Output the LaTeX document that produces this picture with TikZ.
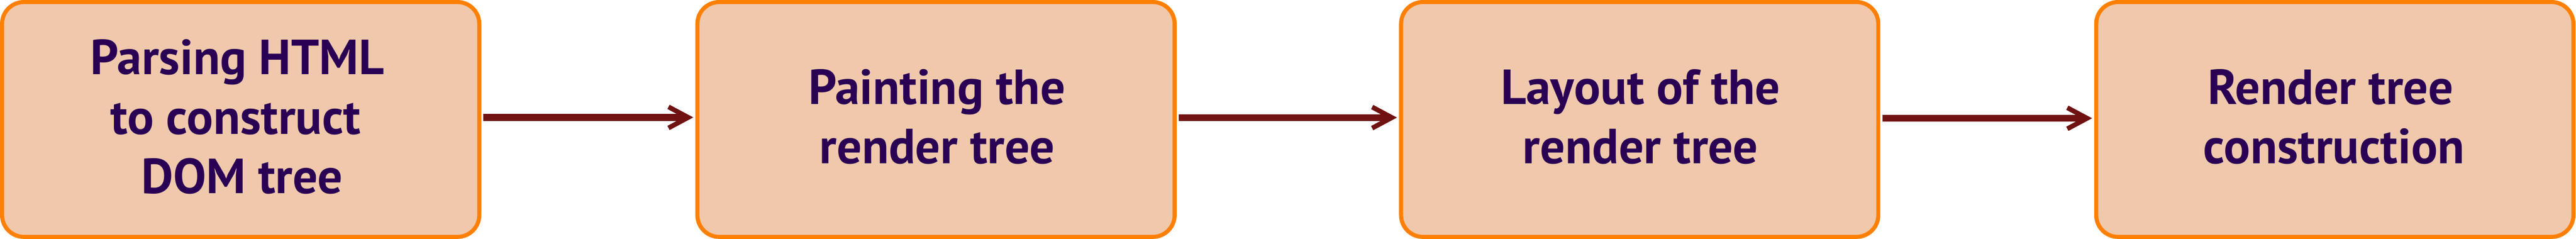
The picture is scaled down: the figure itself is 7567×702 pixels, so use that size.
\documentclass[tikz,border=0pt]{standalone}
\usepackage{fontspec}
\newfontfamily\boxfont{PT Sans}
\usetikzlibrary{arrows.meta}
\definecolor{boxfill}{HTML}{F0C8AB}
\definecolor{boxline}{HTML}{FF8000}
\definecolor{arrowc}{HTML}{701212}
\definecolor{textc}{HTML}{2A0054}
\begin{document}
\begin{tikzpicture}[x=0.1pt,y=-0.1pt,
  stagebox/.style={draw=boxline, fill=boxfill, line width=1.2pt, rounded corners=6.4pt,
    minimum width=140.2pt, minimum height=69pt, inner sep=0pt},
  lbl/.style={anchor=base, text=textc, inner sep=0pt,
    font=\boxfont\bfseries\fontsize{14.5pt}{17.5pt}\selectfont},
  flow/.style={draw=arrowc, line width=2pt,
    -{Straight Barb[sharp,length=5.8pt,width=6.2pt,line width=1.4pt]}}]
\useasboundingbox (0,0) rectangle (7567,702);
\node[stagebox] (b1) at (707,351) {};
\node[stagebox] (b2) at (2749.5,351) {};
\node[stagebox] (b3) at (4816.5,351) {};
\node[stagebox] (b4) at (6858.5,351) {};
\node[lbl] (t11) at (697,219) {Parsing HTML};
\node[lbl] (t12) at (692,394) {to construct};
\node[lbl] (t13) at (711,569) {DOM tree};
\node[lbl] (t21) at (2752,306) {Painting the};
\node[lbl] (t22) at (2753,481) {render tree};
\node[lbl] (t31) at (4819,306) {Layout of the};
\node[lbl] (t32) at (4819,481) {render tree};
\node[lbl] (t41) at (6846,306) {Render tree};
\node[lbl] (t42) at (6856,481) {construction};
\draw[flow] ([xshift=0.6pt,yshift=0.6pt]b1.east) -- ([xshift=-0.6pt,yshift=0.6pt]b2.west);
\draw[flow] ([xshift=0.6pt,yshift=0.55pt]b2.east) -- ([xshift=-0.6pt,yshift=0.55pt]b3.west);
\draw[flow] ([xshift=0.6pt,yshift=0.35pt]b3.east) -- ([xshift=-0.6pt,yshift=0.35pt]b4.west);
\end{tikzpicture}
\end{document}
